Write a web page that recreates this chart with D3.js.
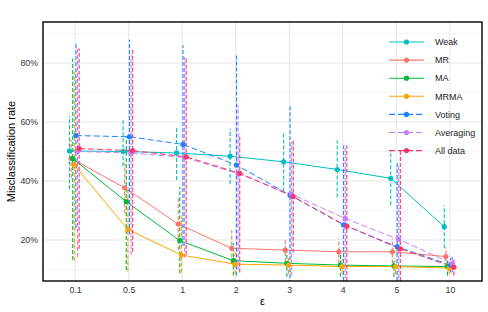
<!DOCTYPE html>
<html>
<head>
<meta charset="utf-8">
<script src="https://d3js.org/d3.v7.min.js"></script>
<style>
  body { margin: 0; background: #fff; }
  text { font-family: "Liberation Sans", Arial, sans-serif; }
</style>
</head>
<body>
<script>
'use strict';

// epsilon categories on the x axis
const epsilons = ["0.1", "0.5", "1", "2", "3", "4", "5", "10"];

// series names, in legend order
const methods = ["Weak", "MR", "MA", "MRMA", "Voting", "Averaging", "All data"];

// mean misclassification rate (%) per epsilon
const weakMean = [50.2, 50.0, 49.5, 48.4, 46.5, 43.9, 40.9, 24.5];
const mrMean = [47.7, 37.7, 25.4, 17.2, 16.6, 16.0, 16.0, 14.4];
const maMean = [47.6, 33.0, 19.8, 13.0, 12.1, 11.5, 11.2, 11.0];
const mrmaMean = [45.4, 23.6, 14.9, 11.8, 11.5, 11.0, 11.0, 10.5];
const votingMean = [55.4, 55.0, 52.4, 45.4, 35.2, 25.1, 17.7, 11.5];
const averagingMean = [50.0, 49.5, 48.0, 42.5, 35.5, 27.3, 20.2, 12.0];
const allDataMean = [51.0, 50.3, 48.2, 42.6, 34.7, 24.7, 17.0, 10.8];

// lower / upper ends of the error bars (%)
const weakLo = [37.2, 45.0, 40.3, 39.0, 36.4, 34.4, 31.8, 17.2];
const weakHi = [62.0, 60.6, 58.3, 57.8, 56.7, 53.8, 50.5, 31.8];
const mrLo = [41.0, 29.0, 16.5, 12.0, 12.5, 12.0, 12.0, 11.0];
const mrHi = [54.0, 46.0, 34.7, 23.4, 20.6, 20.5, 20.5, 17.5];
const maLo = [13.2, 9.8, 8.7, 8.0, 7.5, 7.5, 7.5, 8.0];
const maHi = [81.5, 55.0, 38.0, 19.0, 16.0, 15.0, 14.0, 13.0];
const mrmaLo = [13.0, 9.3, 9.0, 8.5, 8.5, 8.5, 8.5, 8.5];
const mrmaHi = [77.0, 38.0, 28.0, 16.0, 14.0, 13.5, 13.0, 12.5];
const votingLo = [24.0, 22.0, 18.0, 8.0, 5.0, 0.0, 0.0, 9.0];
const votingHi = [87.1, 87.9, 86.0, 82.6, 65.7, 52.0, 46.0, 14.0];
const averagingLo = [14.3, 15.0, 14.0, 10.0, 8.0, 5.0, 3.0, 9.0];
const averagingHi = [85.0, 83.0, 82.0, 65.7, 53.3, 52.0, 45.0, 15.0];
const allDataLo = [17.0, 16.0, 15.0, 9.0, 15.7, 0.0, 0.0, 8.0];
const allDataHi = [84.9, 84.5, 81.5, 56.0, 53.8, 52.0, 50.5, 14.0];

const yTicks = [20, 40, 60, 80];
const yMinor = [10, 30, 50, 70, 90];

const colors = ["#00BFC4", "#F8766D", "#00BA38", "#FFA500", "#1A85FF", "#C77CFF", "#FF3366"];
const dashed = [false, false, false, false, true, true, true];

const means = [weakMean, mrMean, maMean, mrmaMean, votingMean, averagingMean, allDataMean];
const los = [weakLo, mrLo, maLo, mrmaLo, votingLo, averagingLo, allDataLo];
const his = [weakHi, mrHi, maHi, mrmaHi, votingHi, averagingHi, allDataHi];

// build one row per method and epsilon
let rows = [];
methods.forEach((m, i) => {
  epsilons.forEach((e, j) => {
    rows.push({method: m, idx: i, eps: e, mean: means[i][j], lo: los[i][j], hi: his[i][j]});
  });
});

const width = 488, height = 312;
const panel = {left: 43, right: 482, top: 22, bottom: 281};

const svg = d3.select('body').append('svg')
  .attr('width', width)
  .attr('height', height);

const x = d3.scalePoint()
  .domain(epsilons)
  .range([panel.left, panel.right])
  .padding(0.6);

const y = d3.scaleLinear()
  .domain([6.1, 93.9])
  .range([panel.bottom, panel.top]);

// small horizontal dodge so the series don't sit on top of each other
const dodge = (i) => (i - 3.5) * 1.6;
const px = (d) => x(d.eps) + dodge(d.idx);

svg.append('defs').append('clipPath').attr('id', 'clip')
  .append('rect')
  .attr('x', panel.left).attr('y', panel.top)
  .attr('width', panel.right - panel.left)
  .attr('height', panel.bottom - panel.top);

// grid
const grid = svg.append('g');
grid.selectAll('.minor').data(yMinor).enter().append('line')
  .attr('x1', panel.left).attr('x2', panel.right)
  .attr('y1', d => y(d)).attr('y2', d => y(d))
  .attr('stroke', '#f0f0f0').attr('stroke-width', 0.6);
grid.selectAll('.major').data(yTicks).enter().append('line')
  .attr('x1', panel.left).attr('x2', panel.right)
  .attr('y1', d => y(d)).attr('y2', d => y(d))
  .attr('stroke', '#e6e6e6').attr('stroke-width', 1);
grid.selectAll('.vmajor').data(epsilons).enter().append('line')
  .attr('x1', d => x(d)).attr('x2', d => x(d))
  .attr('y1', panel.top).attr('y2', panel.bottom)
  .attr('stroke', '#e6e6e6').attr('stroke-width', 1);

const plot = svg.append('g').attr('clip-path', 'url(#clip)');

// connecting lines
const line = d3.line()
  .x(px)
  .y(d => y(d.mean));

methods.forEach((m, i) => {
  plot.append('path')
    .datum(rows.filter(r => r.idx === i))
    .attr('d', line)
    .attr('fill', 'none')
    .attr('stroke', colors[i])
    .attr('stroke-width', 1)
    .attr('stroke-dasharray', dashed[i] ? '6,3' : null);
});

// error bars (dashed, no caps)
plot.selectAll('.err')
  .data(rows)
  .enter()
  .append('line')
    .attr('x1', px).attr('x2', px)
    .attr('y1', d => y(d.lo)).attr('y2', d => y(d.hi))
    .attr('stroke', d => colors[d.idx])
    .attr('stroke-width', 1.1)
    .attr('stroke-dasharray', '4,2');

// points
plot.selectAll('.dot')
  .data(rows)
  .enter()
  .append('circle')
    .attr('cx', px)
    .attr('cy', d => y(d.mean))
    .attr('r', 2.6)
    .attr('fill', d => colors[d.idx]);

// panel border
svg.append('rect')
  .attr('x', panel.left).attr('y', panel.top)
  .attr('width', panel.right - panel.left)
  .attr('height', panel.bottom - panel.top)
  .attr('fill', 'none')
  .attr('stroke', '#000')
  .attr('stroke-width', 1.4);

// axes
const yAxis = d3.axisLeft(y).tickValues(yTicks).tickSize(0).tickPadding(5)
  .tickFormat(d => d + '%');
svg.append('g')
  .attr('transform', 'translate(' + panel.left + ',0)')
  .call(yAxis)
  .call(g => g.select('.domain').remove())
  .selectAll('text')
    .style('font-size', '8.8px')
    .attr('fill', '#333');

const xAxis = d3.axisBottom(x).tickSize(0).tickPadding(6);
svg.append('g')
  .attr('transform', 'translate(0,' + panel.bottom + ')')
  .call(xAxis)
  .call(g => g.select('.domain').remove())
  .selectAll('text')
    .style('font-size', '8.8px')
    .attr('fill', '#333');

// axis titles
svg.append('text')
  .attr('x', (panel.left + panel.right) / 2)
  .attr('y', 305)
  .attr('text-anchor', 'middle')
  .style('font-size', '11px')
  .text('ε');

svg.append('text')
  .attr('transform', 'translate(15,' + ((panel.top + panel.bottom) / 2) + ')rotate(-90)')
  .attr('text-anchor', 'middle')
  .style('font-size', '11px')
  .text('Misclassification rate');

// legend
const legend = svg.append('g');
methods.forEach((m, i) => {
  let ly = 42 + i * 18.1;
  legend.append('line')
    .attr('x1', 389).attr('x2', 424)
    .attr('y1', ly).attr('y2', ly)
    .attr('stroke', colors[i])
    .attr('stroke-width', 1.1)
    .attr('stroke-dasharray', dashed[i] ? '6,3' : null);
  legend.append('circle')
    .attr('cx', 406.5).attr('cy', ly).attr('r', 2.6)
    .attr('fill', colors[i]);
  legend.append('text')
    .attr('x', 435).attr('y', ly + 3.2)
    .style('font-size', '9px')
    .attr('fill', '#222')
    .text(m);
});
</script>
</body>
</html>
